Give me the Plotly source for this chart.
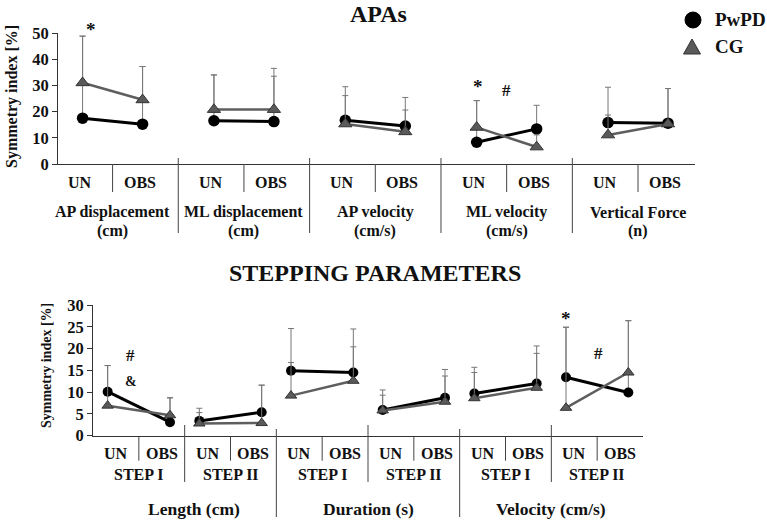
import plotly.graph_objects as go

W, H = 767, 522
FONT = "Liberation Serif"

# ---------------- data: APAs panel ----------------
apa_groups = ["AP displacement", "ML displacement", "AP velocity", "ML velocity", "Vertical Force"]
apa_units = ["(cm)", "(cm)", "(cm/s)", "(cm/s)", "(n)"]
conditions = ["UN", "OBS"]
apa_pwpd = [17.5, 15.2, 16.5, 16.2, 16.7, 14.5, 8.3, 13.4, 15.8, 15.6]
apa_cg = [31.0, 24.5, 20.8, 20.8, 15.3, 12.3, 14.0, 6.5, 11.1, 15.3]
apa_pwpd_top = [48.8, 37.2, 34.0, 33.5, 29.5, 25.4, 24.2, 22.4, 29.3, 28.8]
apa_cg_top = [48.8, 37.2, 34.0, 36.5, 26.1, 20.6, 24.2, 11.1, 18.7, 28.8]
apa_ticks = [0, 10, 20, 30, 40, 50]

# ---------------- data: stepping panel ----------------
step_groups = ["Length (cm)", "Duration (s)", "Velocity (cm/s)"]
steps = ["STEP I", "STEP II"]
step_pwpd = [10.1, 3.1, 3.4, 5.4, 14.9, 14.5, 5.9, 8.7, 9.7, 12.0, 13.4, 9.9]
step_cg = [6.9, 4.7, 2.8, 2.9, 9.2, 12.6, 5.8, 7.8, 8.6, 11.0, 6.4, 14.5]
step_pwpd_top = [16.1, 8.7, 6.3, 11.6, 24.6, 24.5, 10.5, 15.2, 15.7, 20.6, 24.9, 26.4]
step_cg_top = [16.1, 8.7, 5.3, 11.6, 16.8, 20.4, 9.3, 13.7, 14.5, 18.9, 24.9, 26.4]
step_ticks = [0, 5, 10, 15, 20, 25, 30]

series_names = ["PwPD", "CG"]

# ---------------- layout helpers ----------------
def py(px):
    return 1 - px / H

TOP_DOM_X = [58 / W, 695 / W]
TOP_DOM_Y = [py(164), py(33)]
BOT_DOM_X = [93 / W, 643 / W]
BOT_DOM_Y = [py(435.7), py(305)]

G = 2.19  # group spacing (top)
top_range = [-0.41, 4 * G + 1 + 0.45]

def top_pos(g, k):
    return g * G + k

D = 0.68  # half distance between UN and OBS points (bottom)

def bot_pos(p, k):
    return 2 * p + 1 + (D if k else -D)

PW_COLOR = "#000000"
CG_LINE = "#5e5e5e"
CG_FILL = "#5a5a5a"
ERR_COLOR = "#777777"

fig = go.Figure()

def add_pair(xs, ys, tops, name, xaxis, yaxis, size):
    err = [t - v for t, v in zip(tops, ys)]
    if name == "PwPD":
        line = dict(color=PW_COLOR, width=3)
        marker = dict(symbol="circle", size=size, color=PW_COLOR)
    else:
        line = dict(color=CG_LINE, width=2.5)
        marker = dict(symbol="triangle-up", size=size, color=CG_FILL,
                      line=dict(color="#333333", width=1))
    fig.add_trace(go.Scatter(
        x=xs, y=ys, mode="lines+markers", line=line, marker=marker, name=name,
        error_y=dict(type="data", symmetric=False, array=err, arrayminus=[0] * len(err),
                     color=ERR_COLOR, thickness=1, width=3),
        xaxis=xaxis, yaxis=yaxis, showlegend=False, hoverinfo="skip", cliponaxis=False))

# top panel traces
for name, vals, tops in [("PwPD", apa_pwpd, apa_pwpd_top), ("CG", apa_cg, apa_cg_top)]:
    for g in range(len(apa_groups)):
        add_pair([top_pos(g, 0), top_pos(g, 1)], vals[2 * g:2 * g + 2], tops[2 * g:2 * g + 2],
                 name, "x", "y", 11.5)

# bottom panel traces
for name, vals, tops in [("PwPD", step_pwpd, step_pwpd_top), ("CG", step_cg, step_cg_top)]:
    for p in range(len(step_pwpd) // 2):
        add_pair([bot_pos(p, 0), bot_pos(p, 1)], vals[2 * p:2 * p + 2], tops[2 * p:2 * p + 2],
                 name, "x2", "y2", 10)

ann = []
shapes = []

def text(x, y, s, size, xref="paper", angle=0, xanchor="center"):
    ann.append(dict(x=x, y=y, xref=xref, yref="paper", text=s, showarrow=False,
                    xanchor=xanchor, yanchor="middle", textangle=angle,
                    font=dict(family=FONT, size=size, color="#111111", weight="bold")))

def vline(x, y0px, y1px, xref):
    shapes.append(dict(type="line", xref=xref, yref="paper", x0=x, x1=x,
                       y0=py(y0px), y1=py(y1px), line=dict(color="#444444", width=1)))

# titles
text(378 / W, py(14), "APAs", 24)
text(374.5 / W, py(273), "STEPPING PARAMETERS", 24)
text(12 / W, py(97), "Symmetry index [%]", 16, angle=-90)
text(46 / W, py(366), "Symmetry index [%]", 14, angle=-90)

# legend (drawn as decoration: symbol shapes + text)
shapes.append(dict(type="circle", xref="paper", yref="paper", xsizemode="pixel", ysizemode="pixel",
                   xanchor=693 / W, yanchor=py(20), x0=-8, x1=8, y0=-8, y1=8,
                   fillcolor=PW_COLOR, line=dict(color=PW_COLOR, width=1)))
shapes.append(dict(type="path", xref="paper", yref="paper", xsizemode="pixel", ysizemode="pixel",
                   xanchor=692 / W, yanchor=py(47), path="M -8.5 -7 L 8.5 -7 L 0 8 Z",
                   fillcolor=CG_FILL, line=dict(color="#333333", width=1)))
text(713 / W, py(20), series_names[0], 19, xanchor="left")
text(713 / W, py(47), series_names[1], 19, xanchor="left")

# top labels & separators
for g in range(len(apa_groups)):
    for k, c in enumerate(conditions):
        text(top_pos(g, k) - 0.05, py(182), c, 16, xref="x")
    cx = (top_pos(g, 0) + top_pos(g, 1)) / 2
    text(cx, py(212), apa_groups[g], 16, xref="x")
    text(cx, py(231), apa_units[g], 16, xref="x")
    vline(g * G + 0.5, 164, 192, "x")
    if g < len(apa_groups) - 1:
        vline(g * G + (1 + G) / 2, 158, 233, "x")

# bottom labels & separators
for p in range(len(step_pwpd) // 2):
    for k, c in enumerate(conditions):
        text(2 * p + 0.5 + k, py(453), c, 16, xref="x2")
    text(2 * p + 1, py(474), steps[p % 2], 16, xref="x2")
    vline(2 * p + 1, 436.7, 460.7, "x2")
    if p < len(step_pwpd) // 2 - 1:
        if (p + 1) % 2 == 0:
            vline(2 * p + 2, 429, 517, "x2")
        else:
            vline(2 * p + 2, 425, 482, "x2")
for q, gname in enumerate(step_groups):
    text(4 * q + 2 + (0.2 if q == 0 else 0), py(509), gname, 17.5, xref="x2")

# significance marks
text(top_pos(0, 0) + 0.14, py(29), "*", 19, xref="x")
text(top_pos(3, 0) + 0.02, py(86), "*", 19, xref="x")
text(top_pos(3, 0) + 0.49, py(90), "#", 17, xref="x")
text(bot_pos(0, 0) + 0.5, py(355), "#", 17, xref="x2")
text(bot_pos(0, 0) + 0.5, py(381), "&amp;", 14, xref="x2")
text(bot_pos(5, 0) + 0.01, py(318), "*", 19, xref="x2")
text(bot_pos(5, 0) + 0.7, py(353), "#", 17, xref="x2")

axis_common = dict(showgrid=False, zeroline=False, showline=True, linecolor="#333333",
                   linewidth=1, automargin=False)
tickfont = dict(family=FONT, size=16.5, color="#111111", weight="bold")

fig.update_layout(
    width=W, height=H, margin=dict(l=0, r=0, t=0, b=0, autoexpand=False),
    paper_bgcolor="white", plot_bgcolor="white",
    xaxis=dict(domain=TOP_DOM_X, range=top_range, showticklabels=False, ticks="",
               anchor="y", **axis_common),
    yaxis=dict(domain=TOP_DOM_Y, range=[0, 50], tickvals=apa_ticks, ticks="outside",
               ticklen=5, tickcolor="#333333", tickfont=tickfont, anchor="x", **axis_common),
    xaxis2=dict(domain=BOT_DOM_X, range=[0, 12], showticklabels=False, ticks="",
                anchor="y2", **axis_common),
    yaxis2=dict(domain=BOT_DOM_Y, range=[0, 30], tickvals=step_ticks, ticks="outside",
                ticklen=5, tickcolor="#333333", tickfont=tickfont, anchor="x2", **axis_common),
    showlegend=False,
    annotations=ann, shapes=shapes,
)

fig.write_html("out.html", config={"displayModeBar": False},
               post_script="document.body.style.margin='0';document.body.style.overflow='hidden';")
